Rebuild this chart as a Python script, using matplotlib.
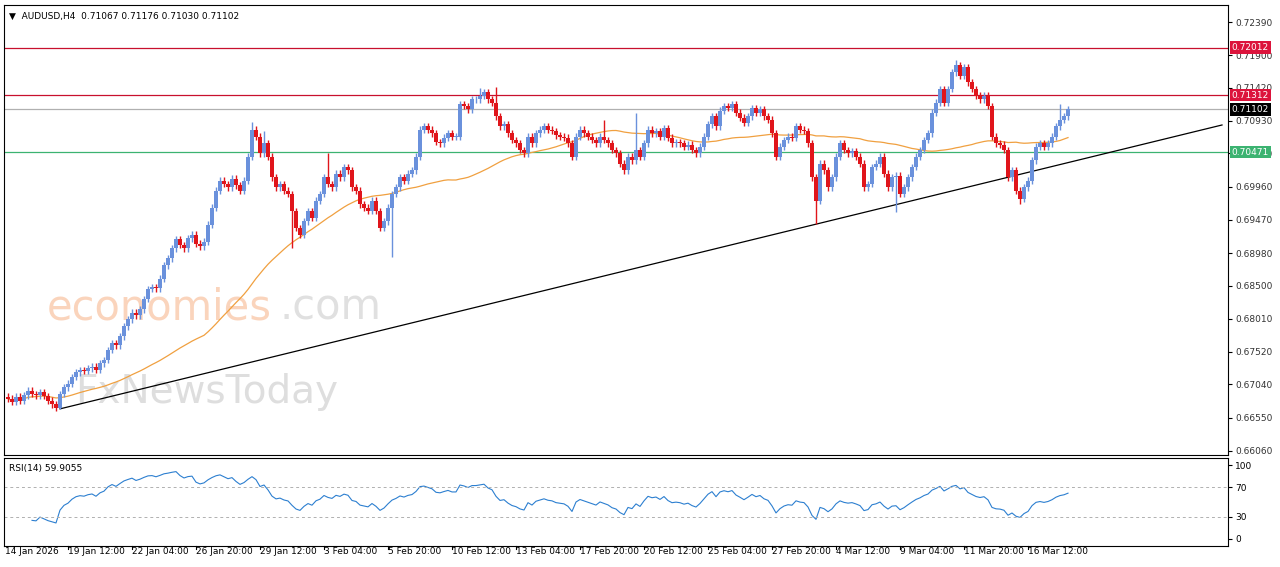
import matplotlib.pyplot as plt
import numpy as np
import pandas as pd

# H4 closes in 1/10000 units
closes_pips = [
    6683, 6678, 6686, 6680, 6688, 6695, 6690, 6688, 6693, 6687,
    6680, 6675, 6670, 6690, 6700, 6705, 6715, 6722, 6725, 6724,
    6728, 6730, 6726, 6735, 6740, 6755, 6765, 6762, 6775, 6790,
    6800, 6810, 6806, 6815, 6830, 6845, 6848, 6846, 6860, 6880,
    6890, 6905, 6918, 6910, 6905, 6920, 6925, 6912, 6908, 6915,
    6940, 6965, 6990, 7005, 7000, 6995, 7008, 6998, 6990, 7005,
    7040, 7080, 7070, 7045, 7060, 7040, 7010, 6995, 7000, 6990,
    6985, 6960, 6935, 6925, 6945, 6960, 6950, 6975, 6985, 7010,
    7000, 6995, 7015, 7010, 7025, 7020, 6995, 6990, 6970, 6965,
    6960, 6975, 6960, 6935, 6945, 6965, 6985, 6995, 7010, 7005,
    7015, 7020, 7040, 7080, 7085, 7080, 7075, 7062, 7060, 7068,
    7075, 7070, 7070, 7118, 7115, 7110, 7125, 7125, 7130, 7135,
    7125, 7120, 7100, 7085, 7088, 7075, 7065, 7060, 7050, 7045,
    7070, 7060, 7075, 7080, 7085, 7080, 7078, 7072, 7070, 7068,
    7060, 7040, 7070, 7080, 7075, 7070, 7065, 7060, 7070, 7065,
    7060, 7050, 7045, 7030, 7020, 7040, 7035, 7050, 7040, 7060,
    7080, 7075, 7078, 7070, 7082, 7068, 7060, 7062, 7060, 7055,
    7058, 7050, 7045, 7055, 7070, 7088, 7100, 7085, 7108, 7115,
    7112, 7118, 7105, 7098, 7090, 7100, 7112, 7105, 7110, 7100,
    7095, 7075, 7040, 7055, 7065, 7070, 7068, 7085, 7080, 7078,
    7060, 7010, 6975, 7030, 7020, 6995, 7010, 7040, 7060, 7050,
    7045, 7048, 7040, 7030, 6995, 7000, 7025, 7030, 7040, 7015,
    6995, 7010, 7012, 6985, 6995, 7010, 7025, 7040, 7050, 7065,
    7075, 7105, 7120, 7140, 7120, 7140, 7165, 7175, 7160, 7172,
    7150, 7140, 7130, 7125, 7130, 7115, 7070, 7060, 7058, 7050,
    7010, 7020, 6990, 6978, 6995, 7005, 7035, 7055, 7060, 7055,
    7060, 7070, 7085, 7095, 7100, 7110.2,
]
spike_highs = {61: 7092, 64: 7078, 80: 7045, 118: 7142, 122: 7143, 149: 7095,
               157: 7105, 237: 7183, 263: 7118}
spike_lows = {13: 6668, 71: 6905, 96: 6892, 202: 6941, 222: 6958, 253: 6970}

levels = [0.72012, 0.71312, 0.71102, 0.70471]
level_colors = ["#c8102e", "#c8102e", "#b0b0b0", "#3cb371"]
label_colors = ["#dc143c", "#dc143c", "#000000", "#3cb371"]
price_ticks = [0.72390, 0.71900, 0.71420, 0.70930, 0.70450, 0.69960, 0.69470,
               0.68980, 0.68500, 0.68010, 0.67520, 0.67040, 0.66550, 0.66060]
date_labels = ["19 Jan 12:00", "22 Jan 04:00", "26 Jan 20:00", "29 Jan 12:00",
               "3 Feb 04:00", "5 Feb 20:00", "10 Feb 12:00", "13 Feb 04:00",
               "17 Feb 20:00", "20 Feb 12:00", "25 Feb 04:00", "27 Feb 20:00",
               "4 Mar 12:00", "9 Mar 04:00", "11 Mar 20:00", "16 Mar 12:00"]
trend_pts = [(13, 0.6668), (303.5, 0.7087)]

close = np.array(closes_pips) / 10000
n = len(close)
opn = np.r_[close[0] + 0.0003, close[:-1]]
high = np.maximum(opn, close) + 0.0005
low = np.minimum(opn, close) - 0.0005
for k, v in spike_highs.items():
    high[k] = v / 10000
for k, v in spike_lows.items():
    low[k] = v / 10000
x = np.arange(n)

s = pd.Series(close)
ma = s.rolling(50, min_periods=1).mean()
d = s.diff()
gain = d.clip(lower=0).ewm(alpha=1 / 14, adjust=False, min_periods=6).mean()
loss = (-d.clip(upper=0)).ewm(alpha=1 / 14, adjust=False, min_periods=6).mean()
rsi = 100 - 100 / (1 + gain / loss)

W, H = 1280, 567
fig = plt.figure(figsize=(12.8, 5.67), dpi=100)
plt.rcParams['font.family'] = ['DejaVu Sans']
ax = fig.add_axes([4 / W, 1 - 455 / H, 1224 / W, 450 / H])
ax2 = fig.add_axes([4 / W, 1 - 546 / H, 1224 / W, 88 / H])

x_of = lambda px: (px - 8) / 4
for a in (ax, ax2):
    a.set_xlim(x_of(4), x_of(1228))
    a.set_xticks([])
    a.tick_params(axis='y', length=3, labelsize=6.5, pad=2, right=True, left=False,
                  labelright=True, labelleft=False)

ax.set_ylim(0.65999, 0.72641)
ax.set_yticks(price_ticks)
ax.set_yticklabels([f"{t:.5f}" for t in price_ticks], color="#333333")

up = close >= opn
colors = np.where(up, "#6a91dc", "#e0151b")
ax.vlines(x, low, high, colors=colors, linewidth=1, zorder=3)
body = np.maximum(np.abs(close - opn), 0.00005)
ax.bar(x, body, bottom=np.minimum(opn, close), width=0.8, color=colors, zorder=4)
ax.plot(x, ma, color="#f0a040", linewidth=0.9, zorder=2)

for lv, c, lc in zip(levels, level_colors, label_colors):
    ax.axhline(lv, color=c, linewidth=0.9, zorder=1)
    ax.text(1.003, lv, f"{lv:.5f}", transform=ax.get_yaxis_transform(), fontsize=6.5,
            color="white", va="center", ha="left", zorder=10,
            bbox=dict(boxstyle="square,pad=0.2", fc=lc, ec="none"))

ax.plot([p[0] for p in trend_pts], [p[1] for p in trend_pts], color="black", linewidth=0.9)

ax.text(0.035, 0.30, "economies", transform=ax.transAxes, fontsize=30, color="#f8b890",
        alpha=0.6, zorder=1)
ax.text(0.225, 0.30, ".com", transform=ax.transAxes, fontsize=30, color="#cccccc",
        alpha=0.6, zorder=1)
ax.text(0.058, 0.115, "FxNewsToday", transform=ax.transAxes, fontsize=28, color="#c8c8c8",
        alpha=0.6, zorder=1)
ax.text(0.004, 0.985, "\u25bc  AUDUSD,H4  0.71067 0.71176 0.71030 0.71102",
        transform=ax.transAxes, fontsize=6.5, va="top")

ax2.set_ylim(-10, 110)
ax2.set_yticks([0, 30, 70, 100])
ax2.plot(x, rsi, color="#2c7fd0", linewidth=0.8)
for lv in (30, 70):
    ax2.axhline(lv, color="#b0b0b0", linewidth=0.7, linestyle=(0, (3, 3)))
ax2.text(0.004, 0.93, "RSI(14) 59.9055", transform=ax2.transAxes, fontsize=6.5, va="top")

# date axis
fig.text(5 / W, 1 - 552 / H, "14 Jan 2026", fontsize=6.5, va="center")
for i, lab in enumerate(date_labels):
    xp = 8 + (15 + 16 * i) * 4
    fig.text(xp / W, 1 - 552 / H, lab, fontsize=6.5, va="center")
    fig.add_artist(plt.Line2D([xp / W, xp / W], [1 - 546 / H, 1 - 549 / H],
                              color="black", linewidth=0.8))

fig.savefig("out.png", dpi=100)
